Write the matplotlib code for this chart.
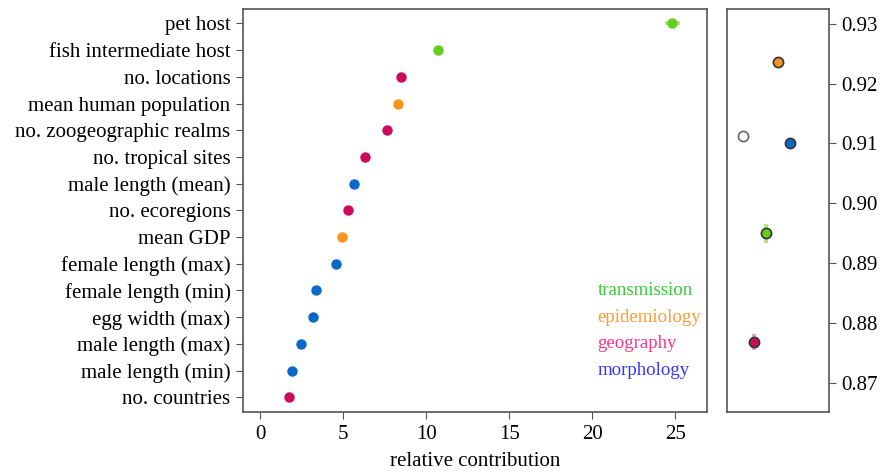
import matplotlib
matplotlib.use("Agg")
import matplotlib.pyplot as plt

plt.rcParams['font.family'] = ['Liberation Serif', 'DejaVu Serif']

# ---- data ----
variables = ["pet host", "fish intermediate host", "no. locations", "mean human population",
             "no. zoogeographic realms", "no. tropical sites", "male length (mean)",
             "no. ecoregions", "mean GDP", "female length (max)", "female length (min)",
             "egg width (max)", "male length (max)", "male length (min)", "no. countries"]
contribution = [24.8, 10.72, 8.46, 8.29, 7.63, 6.27, 5.62, 5.28, 4.94, 4.58, 3.33, 3.17, 2.45, 1.93, 1.73]
contribution_err = [0.45, 0, 0, 0, 0, 0, 0, 0, 0, 0, 0, 0, 0, 0, 0]
groups = ["transmission", "transmission", "geography", "epidemiology", "geography", "geography",
          "morphology", "geography", "epidemiology", "morphology", "morphology", "morphology",
          "morphology", "morphology", "geography"]

legend_groups = ["transmission", "epidemiology", "geography", "morphology"]
dot_colors = {"transmission": "#66cc1e", "epidemiology": "#f7941d",
              "geography": "#cc0a5a", "morphology": "#0a68c8", "none": "white"}
text_colors = {"transmission": "#33cc33", "epidemiology": "#ff9933",
               "geography": "#ff3388", "morphology": "#3333ff"}

# right panel: model performance when a group is dropped
model_groups = ["none", "geography", "transmission", "epidemiology", "morphology"]
model_pos = [1, 2, 3, 4, 5]
model_score = [0.9113, 0.8768, 0.8950, 0.9236, 0.9101]
model_err = [0, 0.0013, 0.0016, 0, 0]
right_ticks = [0.87, 0.88, 0.89, 0.90, 0.91, 0.92, 0.93]

W, H = 886, 473
fig = plt.figure(figsize=(W / 100, H / 100), dpi=100)
ax = fig.add_axes([243 / W, 1 - 412 / H, (707 - 243) / W, (412 - 9) / H])
ax2 = fig.add_axes([727 / W, 1 - 412 / H, (829 - 727) / W, (412 - 9) / H])

spine_col = "#555555"
fs = 15

rows = list(range(len(variables)))
for i in rows:
    c = dot_colors[groups[i]]
    if contribution_err[i] > 0:
        ax.errorbar(contribution[i], i, xerr=contribution_err[i], fmt='none',
                    ecolor="#b0e48a", elinewidth=3, capsize=0, zorder=2)
    ax.plot(contribution[i], i, 'o', ms=6.5, color=c, mec=c, zorder=3)

ax.set_ylim(len(variables) - 1 + 0.55, -0.54)
ax.set_xlim(-1.05, 26.9)
ax.set_yticks(rows)
ax.set_yticklabels(variables, fontsize=fs)
ax.set_xticks([0, 5, 10, 15, 20, 25])
ax.tick_params(axis='x', labelsize=fs, length=5, color=spine_col, pad=4)
ax.tick_params(axis='y', length=5, color=spine_col, pad=4)
ax.set_xlabel("relative contribution", fontsize=fs, labelpad=6)
for s in ax.spines.values():
    s.set_color(spine_col)
    s.set_linewidth(1.2)

for k, g in enumerate(legend_groups):
    ax.text(20.3, 10 + k, g, color=text_colors[g], fontsize=13.6, va='center', ha='left')

for x, y, e, g in zip(model_pos, model_score, model_err, model_groups):
    if e > 0:
        ax2.errorbar(x, y, yerr=e, fmt='none', ecolor="#b0e48a" if g == "transmission" else "#f0a0c0",
                     elinewidth=3, capsize=0, zorder=2)
    ax2.plot(x, y, 'o', ms=7.3, color=dot_colors[g], mec="#333333" if g != "none" else "#666666",
             mew=1.2, zorder=3)

ax2.set_xlim(-0.33, 8.36)
ax2.set_ylim(0.8651, 0.93246)
ax2.set_xticks([])
ax2.yaxis.tick_right()
ax2.set_yticks(right_ticks)
ax2.set_yticklabels([f"{t:.2f}" for t in right_ticks], fontsize=fs)
ax2.tick_params(axis='y', length=5, color=spine_col, pad=4)
for s in ax2.spines.values():
    s.set_color(spine_col)
    s.set_linewidth(1.2)

fig.savefig("out.png", dpi=100)
